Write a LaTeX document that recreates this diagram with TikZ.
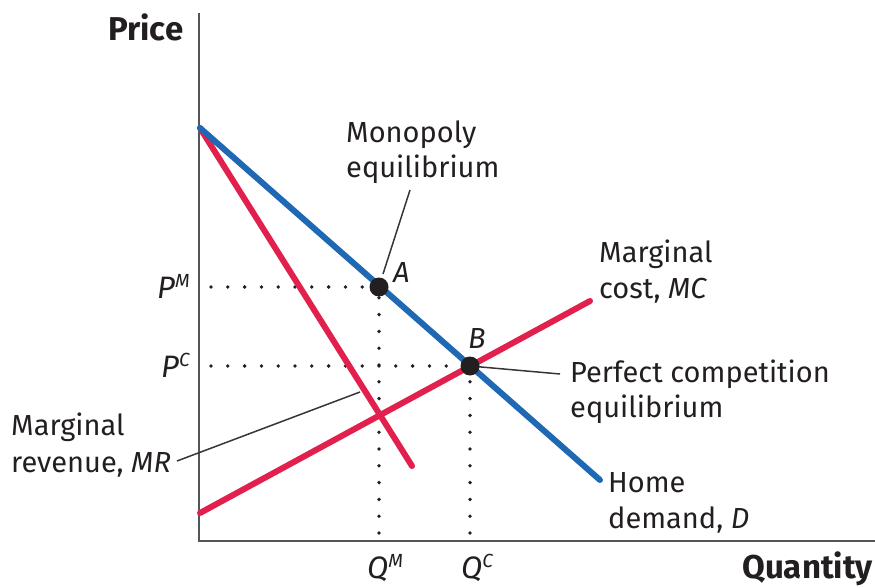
\documentclass[tikz,border=0pt]{standalone}
\usepackage{fontspec}
\setmainfont{Fira Sans}
\definecolor{dblue}{RGB}{30,104,180}
\definecolor{mred}{RGB}{226,32,78}
\definecolor{axgray}{RGB}{85,85,85}
\definecolor{txt}{RGB}{35,31,32}
\newcommand{\supM}[1]{\raisebox{11pt}{\fontsize{19}{19}\selectfont\itshape #1}}
\begin{document}
\begin{tikzpicture}[x=1pt,y=-1pt,
  lbl/.style={font=\fontsize{29}{34}\selectfont, text=txt, inner sep=0, anchor=base west},
  axmark/.style={font=\fontsize{31}{34}\selectfont\itshape, text=txt, inner sep=0},
  bold/.style={font=\fontsize{33}{38}\selectfont\bfseries, text=txt, inner sep=0},
  axisline/.style={draw=axgray, line width=2pt},
  curveD/.style={line width=6pt, draw=dblue, line cap=round},
  curveR/.style={line width=6pt, draw=mred, line cap=round},
  dotline/.style={line width=3.8pt, line cap=round, dash pattern=on 0pt off 16.8pt, draw=txt},
  leader/.style={line width=1.5pt, draw=txt!90},
  eqdot/.style={circle, fill=txt, minimum size=19pt, inner sep=0}]
\useasboundingbox (0,0) rectangle (875,588);

% axes
\coordinate (ytop) at (199,13);
\coordinate (O) at (199,541);
\coordinate (xend) at (875,541);
\draw[axisline] (ytop) -- (O) -- (xend);

% key points
\coordinate (top) at (200,128);
\coordinate (dend) at (600,480);
\coordinate (mrend) at (412,466);
\coordinate (mcstart) at (200,513);
\coordinate (mcend) at (590,301);
\coordinate (pm) at (211,287);
\coordinate (pc) at (211,366);
\coordinate (qm) at (379,533);
\coordinate (qc) at (470,533);
\coordinate (Ac) at (379,287);
\coordinate (Bc) at (470,366);

% dotted guides
\draw[dotline] (pm) -- (Ac);
\draw[dotline] (pc) -- (Bc);
\draw[dotline] (qm) -- (Ac);
\draw[dotline] (qc) -- (Bc);

% leader lines
\coordinate (monoS) at (410,190);
\coordinate (monoE) at (383,274);
\coordinate (pcE) at (560,374);
\coordinate (mrS) at (177,461);
\coordinate (mrE) at (360,392);
\draw[leader] (monoS) -- (monoE);
\draw[leader] (Bc) -- (pcE);
\draw[leader] (mrS) -- (mrE);

% curves
\draw[curveR] (top) -- (mrend);
\draw[curveR] (mcstart) -- (mcend);
\draw[curveD] (top) -- (dend);

% equilibrium dots
\node[eqdot] (A) at (Ac) {};
\node[eqdot] (B) at (Bc) {};

% axis titles
\node[bold, anchor=base west] (price) at (108,41) {Price};
\node[bold, anchor=base east] (qty) at (873,578) {Quantity};

% axis marks
\node[axmark, anchor=base west] (PM) at (157,298) {P\supM{M}};
\node[axmark, anchor=base west] (PC) at (161,377) {P\supM{C}};
\node[axmark, anchor=base west] (QM) at (367,578) {Q\supM{M}};
\node[axmark, anchor=base west] (QC) at (461,578) {Q\supM{C}};

% point labels
\node[lbl] (Alab) at (393,282) {\itshape A};
\node[lbl] (Blab) at (468,348) {\itshape B};

% curve and point descriptions
\node[lbl] (mono1) at (346,143) {Monopoly};
\node[lbl] (mono2) at (346,178) {equilibrium};
\node[lbl] (mc1) at (599,262) {Marginal};
\node[lbl] (mc2) at (599,298) {cost, \textit{MC}};
\node[lbl] (pcl1) at (570,382) {Perfect competition};
\node[lbl] (pcl2) at (570,417) {equilibrium};
\node[lbl] (mr1) at (11,435) {Marginal};
\node[lbl] (mr2) at (11,472) {revenue, \textit{MR}};
\node[lbl] (d1) at (608,492) {Home};
\node[lbl] (d2) at (608,528) {demand, \textit{D}};
\end{tikzpicture}
\end{document}
